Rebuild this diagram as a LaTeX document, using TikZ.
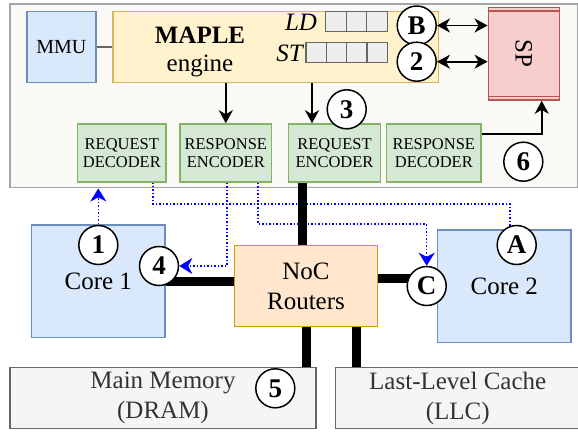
\documentclass[tikz,border=0pt]{standalone}
\usepackage{fontspec}
\setmainfont{Liberation Serif}
\usepackage{graphicx}
\usepackage{xcolor}
\usepackage{tikz}
\usetikzlibrary{arrows.meta, backgrounds}
\definecolor{socfill}{HTML}{FAF9F5}
\definecolor{socline}{HTML}{A6A6A6}
\definecolor{bluefill}{HTML}{DAE8FC}
\definecolor{blueline}{HTML}{6C8EBF}
\definecolor{yelfill}{HTML}{FFF2CC}
\definecolor{yelline}{HTML}{D6B656}
\definecolor{redfill}{HTML}{F8CECC}
\definecolor{redline}{HTML}{B85450}
\definecolor{grnfill}{HTML}{D5E8D4}
\definecolor{grnline}{HTML}{82B366}
\definecolor{orgfill}{HTML}{FFE6CC}
\definecolor{orgline}{HTML}{D79B00}
\definecolor{gryfill}{HTML}{F5F5F5}
\definecolor{gryline}{HTML}{666666}
\definecolor{grytext}{HTML}{333333}
\definecolor{cellfill}{HTML}{EEEEEE}
\tikzset{
  block/.style = {shape=rectangle, draw, line width=1.5pt, inner sep=0pt,
                  align=center, font=\fontsize{25}{30}\selectfont},
  socbox/.style = {block, fill=socfill, draw=socline,
                   minimum width=567.5pt, minimum height=183.7pt},
  mmubox/.style = {block, fill=bluefill, draw=blueline, minimum width=69pt,
                   minimum height=71pt, font=\fontsize{20}{24}\selectfont},
  engbox/.style = {block, fill=yelfill, draw=yelline,
                   minimum width=325.5pt, minimum height=71pt},
  cell/.style = {block, fill=cellfill, draw=gryline, line width=1.2pt,
                 minimum width=20.4pt, minimum height=20pt},
  spbox/.style = {block, fill=redfill, draw=redline,
                  minimum width=71pt, minimum height=92.7pt},
  codec/.style = {block, fill=grnfill, draw=grnline, minimum height=58pt,
                  font=\fontsize{16.5}{18}\selectfont},
  corebox/.style = {block, fill=bluefill, draw=blueline,
                    minimum width=133.3pt, minimum height=112.5pt},
  nocbox/.style = {block, fill=orgfill, draw=orgline,
                   minimum width=143.4pt, minimum height=81pt},
  membox/.style = {block, fill=gryfill, draw=gryline, text=grytext,
                   minimum height=61pt},
  num/.style = {shape=circle, draw, fill=white, line width=1.5pt, inner sep=0pt,
                minimum size=39pt, font=\fontsize{27}{27}\selectfont\bfseries},
  arrow/.style = {line width=1.8pt, -{Stealth[length=13pt, width=14pt, inset=4pt]}},
  biarrow/.style = {line width=1.8pt, {Stealth[length=13pt, width=14pt, inset=4pt]}-{Stealth[length=13pt, width=14pt, inset=4pt]}},
  dotline/.style = {blue, line width=1.5pt, dash pattern=on 1.5pt off 2pt},
  dotarrow/.style = {dotline, -{Stealth[length=13pt, width=16pt, inset=4pt]}},
  bus/.style = {line width=9pt}
}
\begin{document}
\begin{tikzpicture}[x=1pt, y=-1pt]
  \useasboundingbox (0,0) rectangle (578,432);
  \node (mmu) [mmubox] at (61.3,47.2) {MMU};
  \node (eng) [engbox] at (275.5,47.2) {};
  \node (englbl) [font=\fontsize{25}{28}\selectfont, align=center] at (200,52) {\textbf{MAPLE}\\engine};
  \foreach \i in {0,1,2}
    \node (ld\i) [cell] at (336+20.5*\i,21.7) {};
  \foreach \i in {0,...,3}
    \node (st\i) [cell] at (316.2+20.35*\i,52.7) {};
  \node (ldlbl) [font=\fontsize{25}{25}\selectfont\itshape] at (301,22) {LD};
  \node (stlbl) [font=\fontsize{25}{25}\selectfont\itshape] at (289.5,53) {ST};
  \node (sp) [spbox] at (523.8,53.7) {\rotatebox{-90}{SP}};
  \draw [redline, line width=1.2pt] ([yshift=-4.3pt]sp.north west) -- ([yshift=-4.3pt]sp.north east);
  \draw [redline, line width=1.2pt] ([yshift=4.3pt]sp.south west) -- ([yshift=4.3pt]sp.south east);

  \node (reqdec) [codec, minimum width=88.3pt] at (121.8,153) {REQUEST\\DECODER};
  \node (resenc) [codec, minimum width=91.7pt] at (225.8,153) {RESPONSE\\ENCODER};
  \node (reqenc) [codec, minimum width=92.4pt] at (334.5,153) {REQUEST\\ENCODER};
  \node (resdec) [codec, minimum width=94.3pt] at (433.8,153) {RESPONSE\\DECODER};

  \node (core1) [corebox] at (98.3,281.2) {Core 1};
  \node (core2) [corebox] at (504.3,286.3) {Core 2};
  \node (noc) [nocbox] at (306,286.2) {NoC\\Routers};
  \node (dram) [membox, minimum width=306pt] at (163,398) {Main Memory\\(DRAM)};
  \node (llc) [membox, minimum width=244pt] at (457.7,398) {Last-Level Cache\\(LLC)};

  \node (cB) [num] at (416.7,25.5) {B};
  \node (c2) [num] at (416.7,61.7) {2};
  \node (c3) [num] at (346.7,109.3) {3};
  \node (c6) [num] at (523.3,161.7) {6};
  \node (c1) [num] at (98.3,245) {1};
  \node (c4) [num] at (159,266) {4};
  \node (cA) [num] at (516.7,245) {A};
  \node (cC) [num] at (426.7,286) {C};
  \node (c5) [num] at (275.3,388.3) {5};

  \coordinate (k3) at (312,0);
  \coordinate (k6) at (541.7,134.3);
  \draw [gryline, line width=1.5pt] (mmu) -- (eng);
  \draw [biarrow] (cB.east) -- (cB.east -| sp.west);
  \draw [biarrow] (c2.east) -- (c2.east -| sp.west);
  \draw [arrow] (eng.south -| resenc.north) -- (resenc.north);
  \draw [arrow] (eng.south -| k3) -- (reqenc.north -| k3);
  \draw [arrow] (resdec.east |- k6) -| (sp.south -| k6);

  \begin{scope}[on background layer]
    \node (soc) [socbox] at (293.75,95.85) {};
    \coordinate (a1) at (510,204);
    \coordinate (a2) at (153,204);
    \coordinate (r4) at (227,0);
    \coordinate (rc) at (258,224);
    \coordinate (bx) at (302,0);
    \coordinate (bc) at (0,278.8);
    \coordinate (bl) at (356,0);
    \draw [dotarrow] (core1.north) -- (core1.north |- soc.south);
    \draw [dotline] (core2.north -| a1) -- (a1) -- (a2) -- (a2 |- reqdec.south);
    \draw [dotarrow] (resenc.south -| r4) |- (c4.east);
    \draw [dotarrow] (resenc.south -| rc) |- (cC.north |- rc) -- (cC.north);
    \draw [bus] (bx |- reqenc.south) -- (noc.north -| bx);
    \draw [bus] (core1.east) -- (core1.east -| noc.west);
    \draw [bus] (noc.east |- bc) -- (bc -| core2.west);
    \draw [bus] (noc.south) -- (noc.south |- dram.north);
    \draw [bus] (noc.south -| bl) -- (bl |- llc.north);
  \end{scope}
\end{tikzpicture}
\end{document}
